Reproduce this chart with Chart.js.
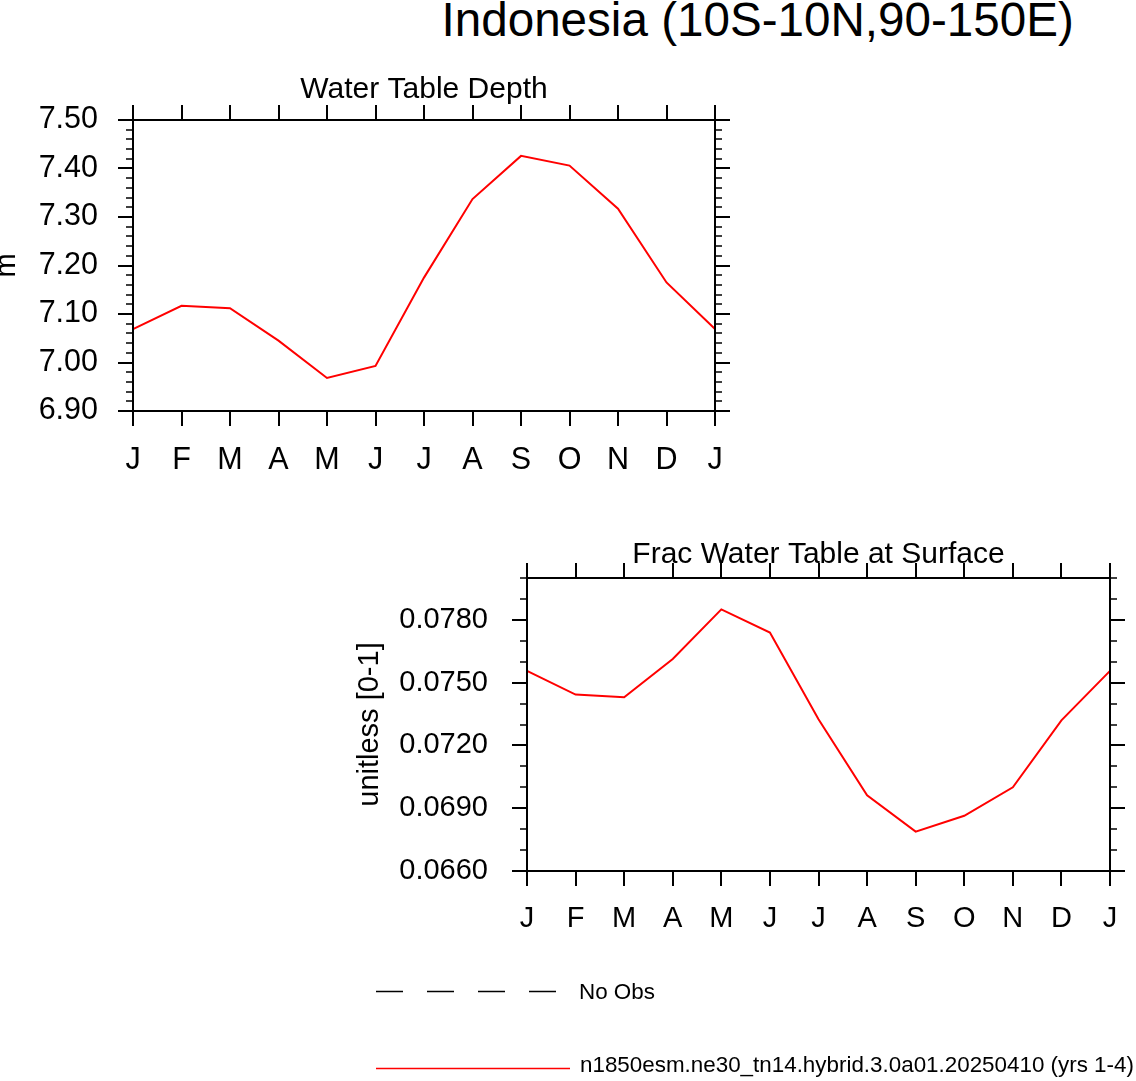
<!DOCTYPE html>
<html>
<head>
<meta charset="utf-8">
<script src="https://cdn.jsdelivr.net/npm/chart.js@4.4.1/dist/chart.umd.min.js"></script>
<style>
  html, body { margin:0; padding:0; background:#fff; width:1136px; height:1081px; overflow:hidden;
    font-family:"Liberation Sans", Arial, Helvetica, sans-serif; color:#000; }
  .abs { position:absolute; }
  #mainTitle { left:441.5px; top:-4px; font-size:47.6px; line-height:47.6px; white-space:nowrap; }
  #c1 { position:absolute; left:0px; top:60px; }
  #c2 { position:absolute; left:340px; top:500px; }
  .legText { font-size:22.4px; line-height:22.4px; white-space:nowrap; }
</style>
</head>
<body>
<div id="mainTitle" class="abs">Indonesia (10S-10N,90-150E)</div>
<canvas id="c1" width="760" height="420"></canvas>
<canvas id="c2" width="796" height="460"></canvas>

<svg class="abs" style="left:0;top:0" width="1136" height="1081">
  <line x1="376" y1="991.5" x2="558" y2="991.5" stroke="#000" stroke-width="1.3" stroke-dasharray="27 24"/>
  <line x1="376" y1="1068.5" x2="570" y2="1068.5" stroke="#ff0000" stroke-width="1.3"/>
</svg>
<div class="abs legText" id="leg1" style="left:579px;top:981px;">No Obs</div>
<div class="abs legText" id="leg2" style="left:580px;top:1054px;">n1850esm.ne30_tn14.hybrid.3.0a01.20250410 (yrs 1-4)</div>

<script>
// ---------------- data ----------------
const months = ['J','F','M','A','M','J','J','A','S','O','N','D','J'];

const wtdValues  = [7.069, 7.117, 7.112, 7.045, 6.968, 6.993, 7.175, 7.337, 7.426, 7.406, 7.317, 7.165, 7.069];
const wtdMajor   = [6.90, 7.00, 7.10, 7.20, 7.30, 7.40, 7.50];
const wtdMinor   = [6.92, 6.94, 6.96, 6.98, 7.02, 7.04, 7.06, 7.08, 7.12, 7.14, 7.16, 7.18,
                    7.22, 7.24, 7.26, 7.28, 7.32, 7.34, 7.36, 7.38, 7.42, 7.44, 7.46, 7.48];

const fracValues = [0.07556, 0.07443, 0.07430, 0.07613, 0.07850, 0.07739, 0.07325, 0.06962, 0.06788, 0.06864, 0.07000, 0.07320, 0.07556];
const fracMajor  = [0.066, 0.069, 0.072, 0.075, 0.078];
const fracMinor  = [0.067, 0.068, 0.070, 0.071, 0.073, 0.074, 0.076, 0.077, 0.079, 0.080];

// ---------------- helpers ----------------
const FONT = '"Liberation Sans", Arial, Helvetica, sans-serif';

const frameTicks = {
  id: 'frameTicks',
  afterDatasetsDraw(chart, args, opts) {
    const { ctx, chartArea: a, scales: { x, y } } = chart;
    ctx.save();
    ctx.strokeStyle = '#000';
    ctx.lineCap = 'butt';
    ctx.lineWidth = 2;
    ctx.beginPath();
    for (let i = 0; i < x.ticks.length; i++) {
      const px = Math.round(x.getPixelForTick(i));
      ctx.moveTo(px, a.bottom); ctx.lineTo(px, a.bottom + opts.major);
      ctx.moveTo(px, a.top);    ctx.lineTo(px, a.top - opts.major);
    }
    for (const v of opts.yMajor) {
      const py = Math.round(y.getPixelForValue(v));
      ctx.moveTo(a.left, py);  ctx.lineTo(a.left - opts.major, py);
      ctx.moveTo(a.right, py); ctx.lineTo(a.right + opts.major, py);
    }
    ctx.stroke();
    ctx.lineWidth = 1.5;
    ctx.beginPath();
    for (const v of opts.yMinor) {
      const py = Math.round(y.getPixelForValue(v));
      ctx.moveTo(a.left, py);  ctx.lineTo(a.left - opts.minor, py);
      ctx.moveTo(a.right, py); ctx.lineTo(a.right + opts.minor, py);
    }
    ctx.stroke();
    ctx.lineWidth = 2;
    ctx.strokeRect(a.left, a.top, a.right - a.left, a.bottom - a.top);
    ctx.restore();
  }
};

function makePanel(canvasId, p) {
  return new Chart(document.getElementById(canvasId), {
    type: 'line',
    data: {
      labels: months,
      datasets: [{
        data: p.values,
        borderColor: '#ff0000',
        borderWidth: 2,
        pointRadius: 0,
        tension: 0,
        fill: false
      }]
    },
    plugins: [frameTicks],
    options: {
      responsive: false,
      animation: false,
      events: [],
      layout: { padding: { left: 0, right: p.padRight, top: 0, bottom: 0 } },
      plugins: {
        legend: { display: false },
        tooltip: { enabled: false },
        title: {
          display: true, text: p.title, fullSize: false, color: '#000',
          font: { family: FONT, size: 30, weight: 'normal', lineHeight: 1.2 },
          padding: { top: p.titleTop, bottom: p.titleBottom }
        },
        frameTicks: { yMajor: p.yMajor, yMinor: p.yMinor, major: 15, minor: 7 }
      },
      scales: {
        x: {
          type: 'category', offset: false,
          grid: { display: false, drawTicks: false },
          border: { display: false },
          ticks: { autoSkip: false, maxRotation: 0, minRotation: 0, padding: p.xPad,
                   color: '#000', font: { family: FONT, size: p.tickSize } },
          afterFit(s) { s.height = p.xHeight; s.paddingLeft = 8; s.paddingRight = 8; }
        },
        y: {
          type: 'linear', min: p.min, max: p.max,
          grid: { display: false, drawTicks: false },
          border: { display: false },
          afterBuildTicks(s) { s.ticks = p.yMajor.map(v => ({ value: v })); },
          ticks: { padding: p.yPad, color: '#000', font: { family: FONT, size: p.tickSize },
                   callback: (v) => Number(v).toFixed(p.dec) },
          title: { display: true, text: p.yTitle, color: '#000',
                   font: { family: FONT, size: 29, lineHeight: 0.5 },
                   padding: { top: p.yTitlePad, bottom: 0 } },
          afterFit(s) { s.width = p.yWidth; }
        }
      }
    }
  });
}

makePanel('c1', {
  values: wtdValues, yMajor: wtdMajor, yMinor: wtdMinor,
  min: 6.9, max: 7.5, dec: 2, tickSize: 30.5,
  title: 'Water Table Depth', titleTop: 11.5, titleBottom: 12.5,
  yTitle: 'm', yTitlePad: 0,
  padRight: 45, yWidth: 133, xHeight: 69, xPad: 31, yPad: 35
});

makePanel('c2', {
  values: fracValues, yMajor: fracMajor, yMinor: fracMinor,
  min: 0.066, max: 0.080, dec: 4, tickSize: 29,
  title: 'Frac Water Table at Surface', titleTop: 37, titleBottom: 5,
  yTitle: 'unitless [0-1]', yTitlePad: 23,
  padRight: 26, yWidth: 187, xHeight: 89, xPad: 31, yPad: 39
});
</script>
</body>
</html>
